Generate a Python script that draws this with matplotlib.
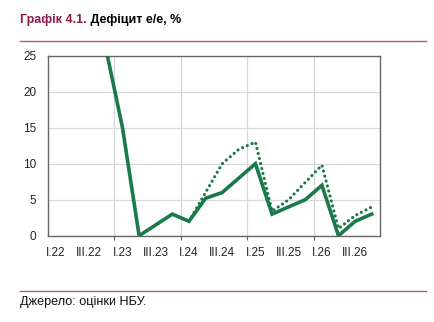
import numpy as np
import matplotlib
matplotlib.use('Agg')
import matplotlib.pyplot as plt
from matplotlib.lines import Line2D

plt.rcParams['font.family'] = ['Liberation Sans', 'DejaVu Sans']

# quarterly categories I.22 .. IV.26
quarters = ['I.22', 'II.22', 'III.22', 'IV.22',
            'I.23', 'II.23', 'III.23', 'IV.23',
            'I.24', 'II.24', 'III.24', 'IV.24',
            'I.25', 'II.25', 'III.25', 'IV.25',
            'I.26', 'II.26', 'III.26', 'IV.26']
tick_labels = ['I.22', 'III.22', 'I.23', 'III.23', 'I.24',
               'III.24', 'I.25', 'III.25', 'I.26', 'III.26']

nan = np.nan
deficit_base = [nan, nan, nan, 26, 15, 0, 1.5, 3, 2, 5.2, 6, 8,
                10, 3, 4, 5, 7, 0, 2, 3]
deficit_alt = [nan, nan, nan, nan, nan, nan, nan, nan, 2, 6, 10, 12,
               13, 3.4, 5, 7.4, 9.8, 1, 2.8, 4]

green = '#1a7a48'
maroon = '#8c1c4c'
rule = '#b4587a'

fig = plt.figure(figsize=(4.35, 3.22), dpi=100)
ax = fig.add_axes([0.1097, 0.268, 0.764, 0.559])

x = np.arange(len(quarters))
ax.plot(x, deficit_base, color=green, lw=2.6, solid_joinstyle='miter', zorder=3)
ax.plot(x, deficit_alt, color=green, lw=2.3, linestyle=(0, (0.01, 1.6)),
        dash_capstyle='round', zorder=2)

ax.set_xlim(-0.5, len(quarters) - 0.5)
ax.set_ylim(0, 25)
ax.set_yticks([0, 5, 10, 15, 20, 25])
ax.set_xticks(x[::2])
ax.set_xticklabels(tick_labels)
ax.set_xticks([3.5, 7.5, 11.5, 15.5], minor=True)

ax.tick_params(axis='x', which='major', length=0, pad=8, labelsize=8.5, colors='#222222')
ax.tick_params(axis='x', which='minor', length=3, width=0.8, color='#606060')
ax.tick_params(axis='y', length=0, pad=8, labelsize=8.5, colors='#222222')

ax.grid(axis='y', color='#d8d8d8', lw=0.9)
ax.grid(axis='x', which='minor', color='#d8d8d8', lw=0.9)
ax.set_axisbelow(True)
for s in ax.spines.values():
    s.set_color('#666666')
    s.set_linewidth(1.0)

t1 = fig.text(0.047, 0.929, 'Графік 4.1.', color=maroon, fontsize=9.0,
              fontweight='bold', va='baseline', ha='left')
ax.annotate(' Дефіцит е/е, %', xy=(1, 0), xycoords=t1, va='bottom', ha='left',
            fontsize=9.0, fontweight='bold', color='black', annotation_clip=False)

fig.add_artist(Line2D([0.046, 0.979], [0.8727, 0.8727], color=rule, lw=1.0,
                      transform=fig.transFigure))
fig.add_artist(Line2D([0.046, 0.979], [0.0963, 0.0963], color=rule, lw=1.0,
                      transform=fig.transFigure))
fig.text(0.046, 0.053, 'Джерело: оцінки НБУ.', fontsize=9.1, color='#111111',
         va='baseline', ha='left')

fig.savefig('out.png', dpi=100, facecolor='white')
